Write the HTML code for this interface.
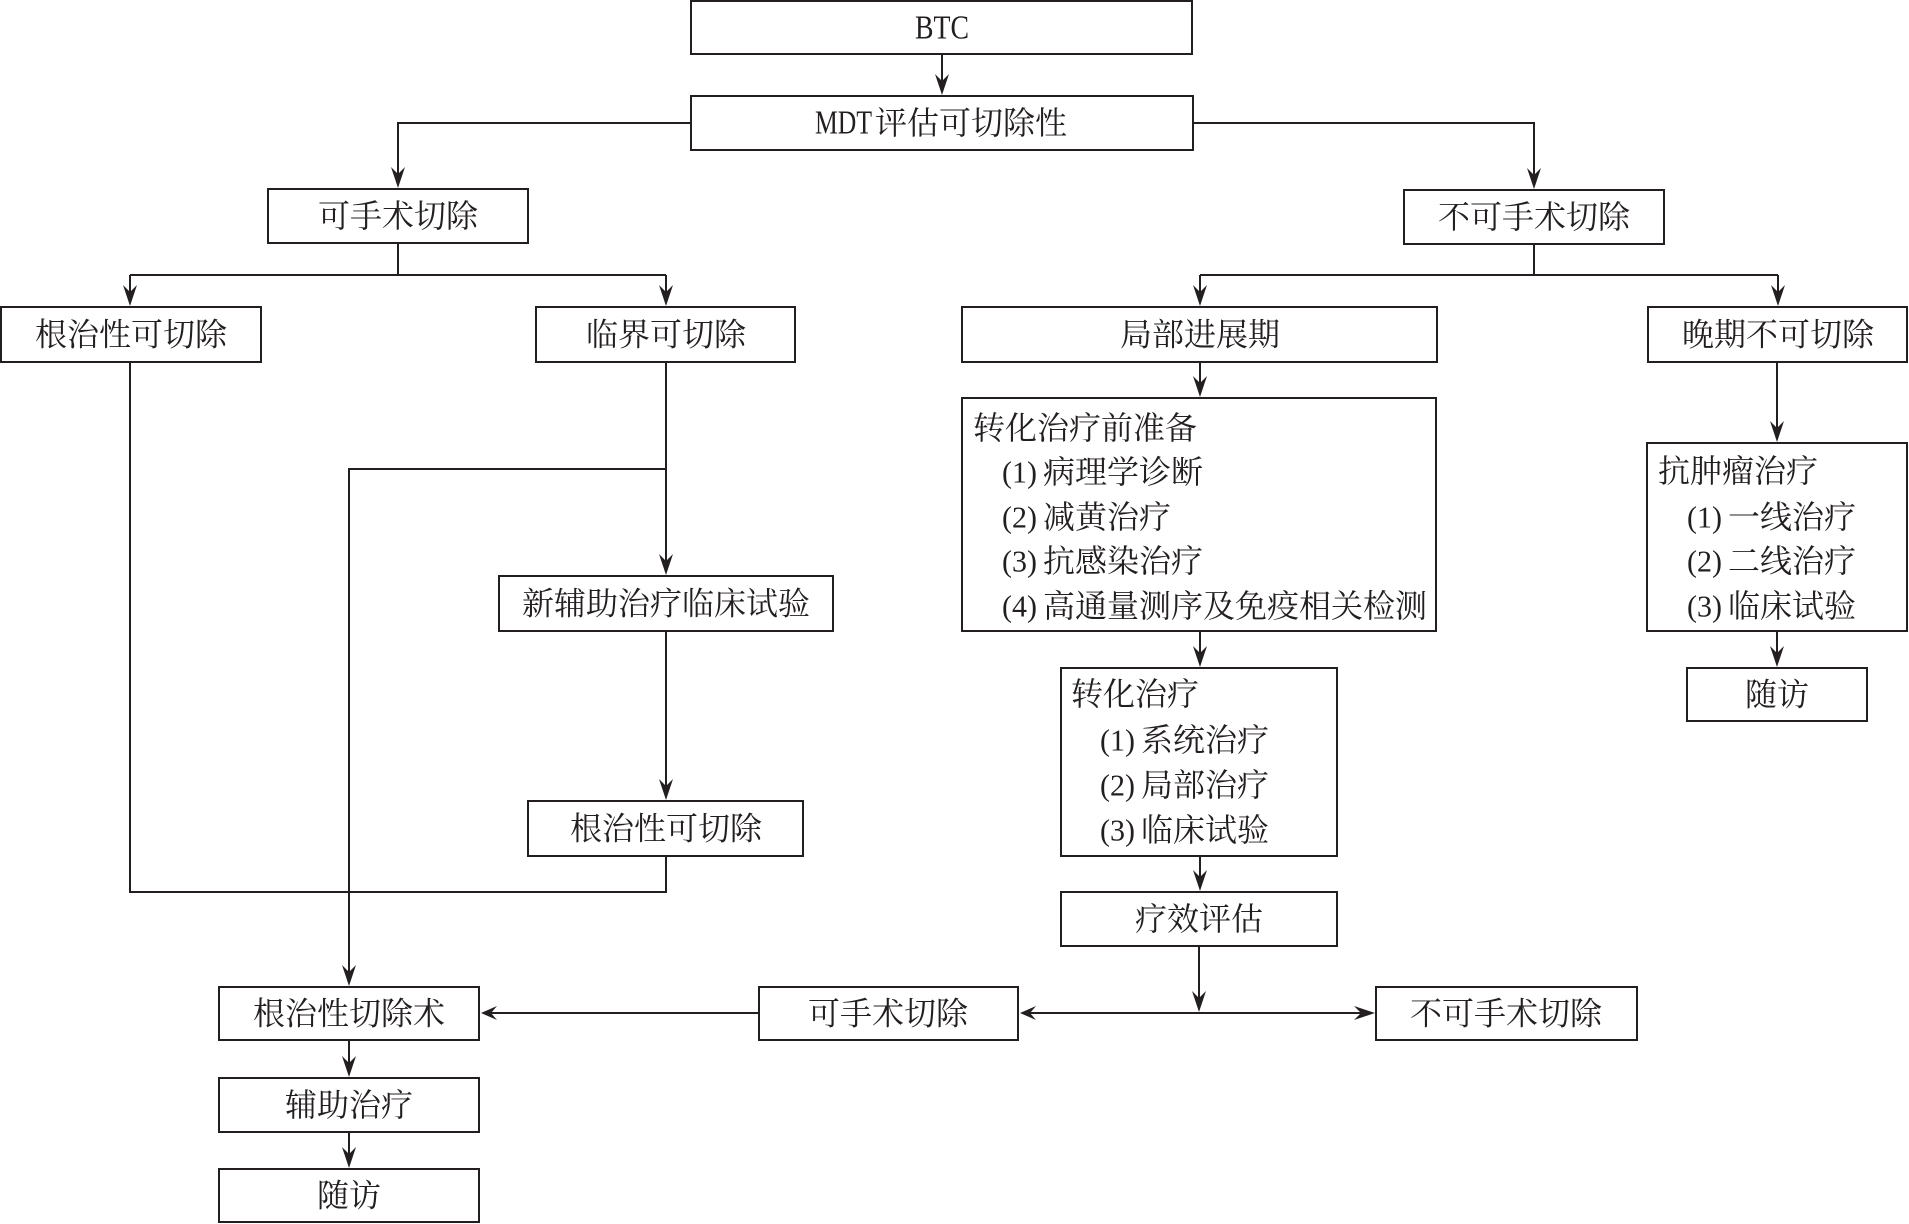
<!DOCTYPE html>
<html>
<head>
<meta charset="utf-8">
<style>
html,body{margin:0;padding:0;background:#fff;}
svg{display:block;}
.cn{font-family:"Liberation Serif","Noto Serif CJK SC",serif;font-size:32px;fill:#231f20;}
.ls{font-family:"Liberation Serif",serif;font-size:31px;fill:#231f20;}
</style>
</head>
<body>
<svg width="1909" height="1224" viewBox="0 0 1909 1224" xmlns="http://www.w3.org/2000/svg">
<g fill="none" stroke="#231f20" stroke-width="2">
  <!-- boxes -->
  <rect x="691" y="1" width="501" height="53"/>
  <rect x="691" y="96" width="502" height="54"/>
  <rect x="268" y="189" width="260" height="54"/>
  <rect x="1404" y="190" width="260" height="54"/>
  <rect x="1" y="307" width="260" height="55"/>
  <rect x="536" y="307" width="259" height="55"/>
  <rect x="962" y="307" width="475" height="55"/>
  <rect x="1648" y="307" width="259" height="55"/>
  <rect x="962" y="398" width="474" height="233"/>
  <rect x="1647" y="443" width="260" height="188"/>
  <rect x="499" y="576" width="334" height="55"/>
  <rect x="1061" y="668" width="276" height="188"/>
  <rect x="1687" y="668" width="180" height="53"/>
  <rect x="528" y="801" width="275" height="55"/>
  <rect x="1061" y="892" width="276" height="54"/>
  <rect x="219" y="987" width="260" height="53"/>
  <rect x="759" y="987" width="259" height="53"/>
  <rect x="1376" y="987" width="261" height="53"/>
  <rect x="219" y="1078" width="260" height="54"/>
  <rect x="219" y="1169" width="260" height="53"/>

  <!-- connectors -->
  <path d="M942 54 V90"/>
  <path d="M691 123 H398 V183"/>
  <path d="M1193 123 H1534 V184"/>
  <path d="M398 243 V275 M130 275 H666 M130 275 V300 M666 275 V300"/>
  <path d="M1534 244 V275 M1200 275 H1778 M1200 275 V300 M1778 275 V300"/>
  <path d="M1200 362 V392"/>
  <path d="M1777 362 V437"/>
  <path d="M1777 631 V662"/>
  <path d="M1200 631 V662"/>
  <path d="M1200 856 V886"/>
  <path d="M1199 946 V1006"/>
  <path d="M1024 1013 H1370"/>
  <path d="M759 1013 H486"/>
  <path d="M349 1040 V1072"/>
  <path d="M349 1132 V1163"/>
  <path d="M130 362 V892 H666 V856"/>
  <path d="M666 362 V570"/>
  <path d="M666 469 H349 V981"/>
  <path d="M666 631 V795"/>
</g>

<g fill="#231f20" stroke="none">
  <!-- down arrows -->
  <path d="M942 95 L935 74 L942 81 L949 74 Z"/>
  <path d="M398 188 L391 167 L398 174 L405 167 Z"/>
  <path d="M1534 189 L1527 168 L1534 175 L1541 168 Z"/>
  <path d="M130 306 L123 285 L130 292 L137 285 Z"/>
  <path d="M666 306 L659 285 L666 292 L673 285 Z"/>
  <path d="M1200 306 L1193 285 L1200 292 L1207 285 Z"/>
  <path d="M1778 306 L1771 285 L1778 292 L1785 285 Z"/>
  <path d="M1200 397 L1193 376 L1200 383 L1207 376 Z"/>
  <path d="M1777 442 L1770 421 L1777 428 L1784 421 Z"/>
  <path d="M1777 667 L1770 646 L1777 653 L1784 646 Z"/>
  <path d="M1200 667 L1193 646 L1200 653 L1207 646 Z"/>
  <path d="M1200 891 L1193 870 L1200 877 L1207 870 Z"/>
  <path d="M1199 1012 L1192 991 L1199 998 L1206 991 Z"/>
  <path d="M349 986 L342 965 L349 972 L356 965 Z"/>
  <path d="M349 1077 L342 1056 L349 1063 L356 1056 Z"/>
  <path d="M349 1168 L342 1147 L349 1154 L356 1147 Z"/>
  <path d="M666 575 L659 554 L666 561 L673 554 Z"/>
  <path d="M666 800 L659 779 L666 786 L673 779 Z"/>
  <!-- horizontal arrows -->
  <path d="M481 1013 L497 1006 L491 1013 L497 1020 Z"/>
  <path d="M1020 1013 L1036 1006 L1030 1013 L1036 1020 Z"/>
  <path d="M1375 1013 L1354 1006 L1361 1013 L1354 1020 Z"/>
</g>

<g class="cn" dominant-baseline="central" text-anchor="middle">
  <text x="942" y="28" class="ls" style="font-size:34px" textLength="54" lengthAdjust="spacingAndGlyphs">BTC</text>
  <text x="398" y="216">可手术切除</text>
  <text x="1534" y="217">不可手术切除</text>
  <text x="131" y="334.5">根治性可切除</text>
  <text x="666" y="334.5">临界可切除</text>
  <text x="1200" y="334.5">局部进展期</text>
  <text x="1778" y="334.5">晚期不可切除</text>
  <text x="666" y="603.5">新辅助治疗临床试验</text>
  <text x="1777" y="694.5">随访</text>
  <text x="666" y="828.5">根治性可切除</text>
  <text x="1199" y="919">疗效评估</text>
  <text x="349" y="1013.5">根治性切除术</text>
  <text x="888" y="1013.5">可手术切除</text>
  <text x="1506" y="1013.5">不可手术切除</text>
  <text x="349" y="1105">辅助治疗</text>
  <text x="349" y="1195.5">随访</text>
</g>

<g class="cn" dominant-baseline="central" text-anchor="start">
  <text x="815" y="123" class="ls" style="font-size:34px" textLength="57" lengthAdjust="spacingAndGlyphs">MDT</text>
  <text x="875" y="123">评估可切除性</text>

  <!-- 转化治疗前准备 -->
  <text x="973" y="428">转化治疗前准备</text>
  <text x="1002" y="472" class="ls" textLength="35" lengthAdjust="spacingAndGlyphs">(1)</text>
  <text x="1043" y="472">病理学诊断</text>
  <text x="1002" y="517" class="ls" textLength="35" lengthAdjust="spacingAndGlyphs">(2)</text>
  <text x="1043" y="517">减黄治疗</text>
  <text x="1002" y="561" class="ls" textLength="35" lengthAdjust="spacingAndGlyphs">(3)</text>
  <text x="1043" y="561">抗感染治疗</text>
  <text x="1002" y="606" class="ls" textLength="35" lengthAdjust="spacingAndGlyphs">(4)</text>
  <text x="1043" y="606">高通量测序及免疫相关检测</text>

  <!-- 抗肿瘤治疗 -->
  <text x="1658" y="471">抗肿瘤治疗</text>
  <text x="1687" y="517" class="ls" textLength="35" lengthAdjust="spacingAndGlyphs">(1)</text>
  <text x="1728" y="517">一线治疗</text>
  <text x="1687" y="561" class="ls" textLength="35" lengthAdjust="spacingAndGlyphs">(2)</text>
  <text x="1728" y="561">二线治疗</text>
  <text x="1687" y="606" class="ls" textLength="35" lengthAdjust="spacingAndGlyphs">(3)</text>
  <text x="1728" y="606">临床试验</text>

  <!-- 转化治疗 -->
  <text x="1071" y="694">转化治疗</text>
  <text x="1100" y="740" class="ls" textLength="35" lengthAdjust="spacingAndGlyphs">(1)</text>
  <text x="1141" y="740">系统治疗</text>
  <text x="1100" y="785" class="ls" textLength="35" lengthAdjust="spacingAndGlyphs">(2)</text>
  <text x="1141" y="785">局部治疗</text>
  <text x="1100" y="830" class="ls" textLength="35" lengthAdjust="spacingAndGlyphs">(3)</text>
  <text x="1141" y="830">临床试验</text>
</g>
</svg>
</body>
</html>
